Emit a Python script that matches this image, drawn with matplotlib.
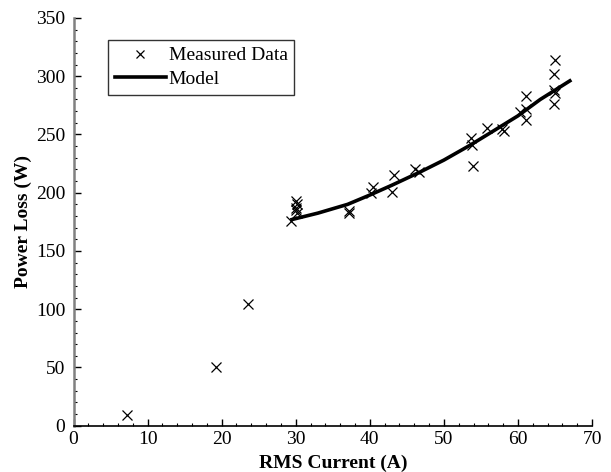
import matplotlib.pyplot as plt
from matplotlib.ticker import MultipleLocator

plt.rcParams['font.family'] = ['Liberation Serif', 'DejaVu Serif']
plt.rcParams['mathtext.fontset'] = 'stix'

current = [7.2, 19.2, 23.5, 29.4,
           30.1, 30.2, 30.1, 30.2, 30.0,
           37.2, 37.2, 40.1, 40.4, 43.0, 43.3, 46.1, 46.6,
           53.6, 53.8, 53.9, 55.8, 57.9, 58.1,
           60.3, 61.1, 61.1, 61.1,
           65.0, 64.8, 64.8, 65.0, 64.8]
power = [9.2, 50, 104.5, 176,
         192.5, 190, 187, 183, 185,
         184.7, 183, 199.6, 205, 200.5, 215.6, 220, 218.2,
         246.9, 241.2, 223.1, 255.5, 254.6, 252.6,
         268.9, 282.7, 271.8, 262,
         313.6, 302.1, 288.4, 286, 276.1]

# Model curve
model_current = [29.5, 33, 37, 40, 43, 46.7, 50, 53.6, 56.3, 60, 63, 65, 67]
model_power = [177, 182.5, 190, 198, 206.5, 217.5, 228, 241, 251.5, 266, 280, 288, 296]

fig = plt.figure(figsize=(6.11, 4.72), dpi=100)
ax = fig.add_axes([0.1203, 0.098, 0.8487, 0.864])

ax.plot(current, power, 'x', color='black', markersize=7, markeredgewidth=0.9,
        label='Measured Data')
ax.plot(model_current, model_power, '-', color='black', lw=2.6, label='Model')

ax.set_xlim(0, 70)
ax.set_ylim(0, 350)
ax.xaxis.set_major_locator(MultipleLocator(10))
ax.xaxis.set_minor_locator(MultipleLocator(2))
ax.yaxis.set_major_locator(MultipleLocator(50))
ax.yaxis.set_minor_locator(MultipleLocator(10))
ax.tick_params(which='both', direction='in', labelsize=14, colors='black')
ax.tick_params(which='major', length=5, width=1)
ax.tick_params(which='minor', length=2.5, width=0.8)
ax.tick_params(axis='y', which='major', pad=6)

ax.spines['top'].set_visible(False)
ax.spines['right'].set_visible(False)
ax.spines['left'].set_color('#808080')
ax.spines['left'].set_linewidth(1.8)
ax.spines['bottom'].set_linewidth(1.2)

ax.set_xlabel('RMS Current (A)', fontsize=14, fontweight='bold', labelpad=5)
ax.set_ylabel('Power Loss (W)', fontsize=14, fontweight='bold', labelpad=3)

leg = ax.legend(loc='upper left', bbox_to_anchor=(0.067, 0.946), borderaxespad=0,
                fontsize=14, frameon=True, fancybox=False, edgecolor='black',
                handlelength=2.6, handletextpad=0.15, borderpad=0.35,
                labelspacing=0.3, markerscale=0.8)
leg.get_frame().set_linewidth(1.0)

plt.savefig('out.png', dpi=100)
plt.close()
